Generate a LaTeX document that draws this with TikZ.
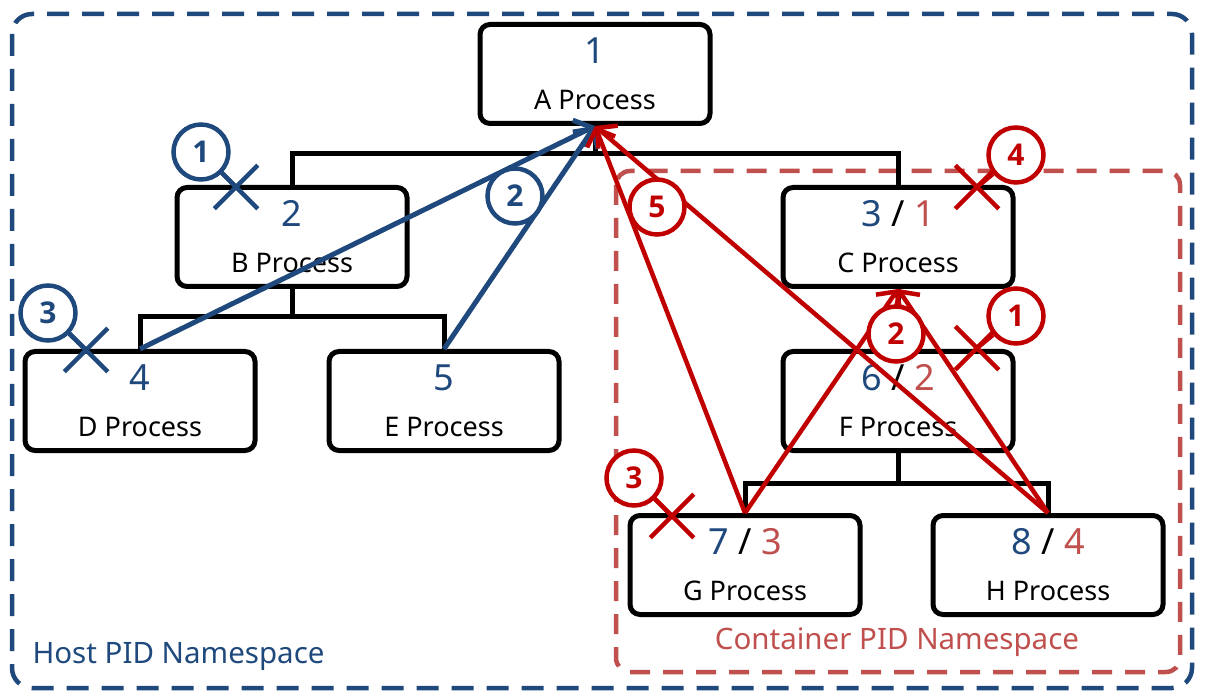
\documentclass[tikz,border=0pt]{standalone}
\usepackage{fontspec}
\setmainfont{Noto Sans}
\newfontfamily\stepfont{Open Sans}
\usetikzlibrary{arrows.meta,shapes.misc}
\definecolor{hostblue}{RGB}{31,73,125}
\definecolor{contred}{RGB}{192,80,77}
\definecolor{arrowred}{RGB}{192,0,0}
\newcommand{\pidfont}{\fontsize{36}{40}\selectfont}
\newcommand{\procfont}{\fontsize{27}{32}\selectfont}
\newcommand{\hpid}[1]{\textcolor{hostblue}{#1}}
\newcommand{\cpid}[1]{\textcolor{contred}{#1}}
\tikzset{
  proc/.style={
    rectangle,
    rounded corners=10pt,
    draw=black, line width=5pt,
    fill=white,
    minimum width=230pt,
    minimum height=99pt,
    align=center,
    font=\procfont},
  tree/.style={draw, line width=5pt},
  hostbox/.style={
    draw=hostblue, line width=4.5pt,
    rounded corners=20pt,
    dash pattern=on 22pt off 13pt},
  contbox/.style={
    draw=contred, line width=4.5pt,
    rounded corners=14pt,
    dash pattern=on 20pt off 13pt},
  harrow/.style={draw=hostblue, line width=5pt, ->},
  rarrow/.style={draw=arrowred, line width=4.5pt, ->},
  hcirc/.style={
    circle, draw=hostblue, line width=4.5pt, fill=white,
    minimum size=55pt, inner sep=0pt,
    text=hostblue, font=\stepfont\fontsize{30}{32}\selectfont\bfseries},
  rcirc/.style={hcirc, draw=arrowred, text=arrowred},
  hcross/.style={cross out, draw=hostblue, line width=4.5pt,
    minimum size=39pt, inner sep=0pt},
  rcross/.style={hcross, draw=arrowred},
  htail/.style={draw=hostblue, line width=4.5pt},
  rtail/.style={draw=arrowred, line width=4.5pt},
}

\begin{document}
\begin{tikzpicture}
[x=1pt, y=-1pt, >={Straight Barb[length=14pt,width=30pt]}]

\useasboundingbox (0,0) rectangle (1205,700);

% namespaces
\draw[hostbox] (12,14) rectangle (1192,688);
\draw[contbox] (616,171) rectangle (1180,672);
\node[anchor=west, text=hostblue, font=\fontsize{29.5}{34}\selectfont] (hostname) at (29,657) {Host PID Namespace};
\node[text=contred, font=\fontsize{29.5}{34}\selectfont] (contname) at (897,642) {Container PID Namespace};

% process tree
\node[proc] (A) at (595,74) {{\pidfont\hpid{1}}\\[14pt] A Process};
\node[proc] (B) at (292,237) {{\pidfont\hpid{2}}\\[14pt] B Process};
\node[proc] (D) at (140,401) {{\pidfont\hpid{4}}\\[14pt] D Process};
\node[proc] (E) at (444,401) {{\pidfont\hpid{5}}\\[14pt] E Process};
\node[proc] (C) at (898,237) {{\pidfont\hpid{3} / \cpid{1}}\\[14pt] C Process};
\node[proc] (F) at (898,401) {{\pidfont\hpid{6} / \cpid{2}}\\[14pt] F Process};
\node[proc] (G) at (745,565) {{\pidfont\hpid{7} / \cpid{3}}\\[14pt] G Process};
\node[proc] (H) at (1048,565) {{\pidfont\hpid{8} / \cpid{4}}\\[14pt] H Process};

\draw[tree] (A.south) -- ++(0,29);
\draw[tree] (B.north) -- ++(0,-31) -| (C.north);
\draw[tree] (B.south) -- ++(0,30);
\draw[tree] (D.north) -- ++(0,-32) -| (E.north);
\draw[tree] (C.south) -- (F.north);
\draw[tree] (F.south) -- ++(0,32);
\draw[tree] (G.north) -- ++(0,-30) -| (H.north);

% host view
\draw[harrow] (D.north) -- (A.south);
\draw[harrow] (E.north) -- (A.south);

% container view
\draw[rarrow] (G.north) -- (A.south);
\draw[rarrow] (H.north) -- (A.south);
\draw[rarrow] (G.north) -- (C.south);
\draw[rarrow] (H.north) -- (C.south);

% steps
\node[hcross] (hx1) at (236,187) {};
\node[hcirc] (h1) at (201,152) {1};
\draw[htail] (h1) -- (hx1.center);
\node[hcirc] (h2) at (515,196) {2};
\node[hcross] (hx3) at (86,350) {};
\node[hcirc] (h3) at (48,313) {3};
\draw[htail] (h3) -- (hx3.center);

\node[rcross] (rx1) at (977,348) {};
\node[rcirc] (r1) at (1016,316) {1};
\draw[rtail] (r1) -- (rx1.center);
\node[rcirc] (r2) at (896,334) {2};
\node[rcross] (rx3) at (672,516) {};
\node[rcirc] (r3) at (634,478) {3};
\draw[rtail] (r3) -- (rx3.center);
\node[rcross] (rx4) at (977,187) {};
\node[rcirc] (r4) at (1016,155) {4};
\draw[rtail] (r4) -- (rx4.center);
\node[rcirc] (r5) at (657,207) {5};

\end{tikzpicture}
\end{document}
